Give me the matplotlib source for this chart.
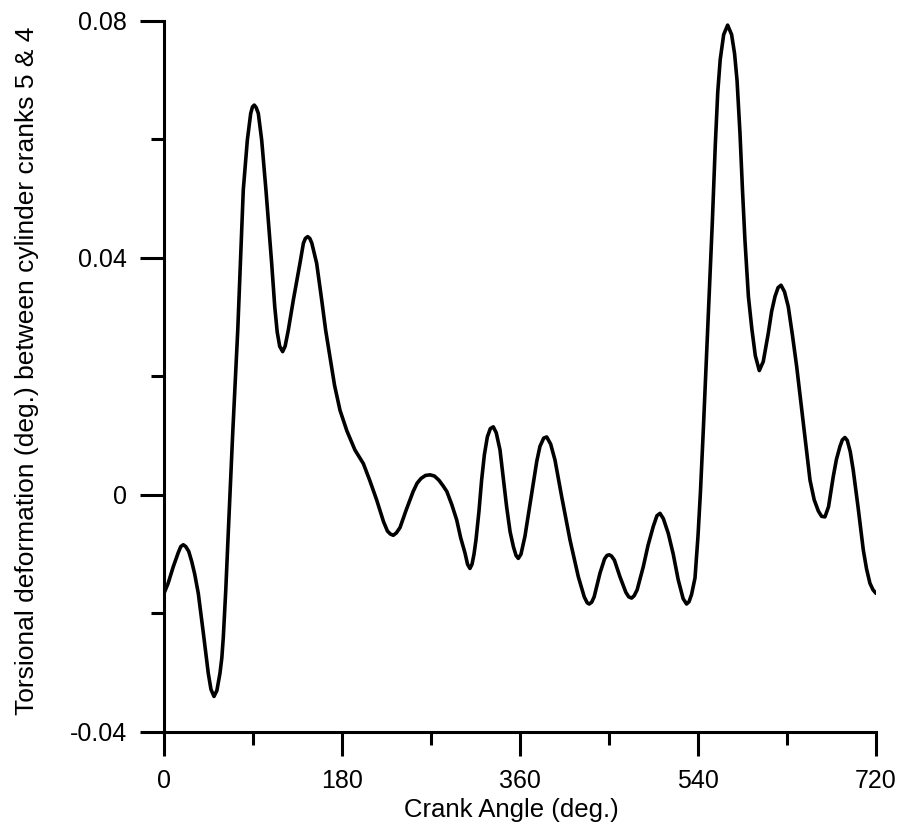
import matplotlib
matplotlib.use("Agg")
import matplotlib.pyplot as plt
from matplotlib.ticker import MultipleLocator

# Crank angle (deg.) and torsional deformation (deg.) between cranks 5 & 4
crank_angle = [
    0, 4, 9.4, 14.5, 17, 19.5, 22, 25, 28, 31, 34.7, 39.8, 44.8, 47.5, 50.6,
    53.5, 56.6, 58.5, 60, 62.5, 65, 69.5, 74.6, 80.2, 84.3, 87.7, 89.5, 91.3,
    93.2, 95.4, 98.8, 103.1, 108.9, 112, 114.5, 117, 120, 122.5, 125.7,
    130.8, 137.5, 141, 143, 145.3, 147.5, 149.5, 154.4, 159.5, 163.5, 167.9,
    172.5, 178, 185, 193.1, 201.6, 208, 215, 222, 226, 229, 231.9, 235,
    238.7, 245, 252, 256, 260, 264.5, 269, 273.5, 278, 282, 286, 291, 296,
    300, 304.4, 307, 309.4, 311.5, 313.5, 315.5, 318.5, 321.2, 324, 327,
    330, 333, 336, 339.8, 343, 346.5, 350, 353.3, 356, 358.3, 361, 365, 369,
    373.5, 377, 380.2, 384, 387, 391, 395.4, 402.2, 410.6, 419, 425, 428,
    430, 432.5, 435, 440.9, 445.5, 448, 450.3, 452.5, 455.5, 461.1, 467,
    470, 472.9, 475.5, 478.5, 484.7, 489.5, 494.8, 498.5, 501.6, 505, 510,
    515, 520, 525, 528.5, 531, 533.5, 537, 540, 542.5, 545.4, 548.5, 551.5,
    554.5, 557.5, 560, 562.5, 566, 570, 574, 577, 579.5, 582.5, 585, 587.5,
    591, 594.5, 598, 602, 606, 611.1, 614.5, 617.9, 621, 624, 627.5, 631.3,
    635.5, 639.8, 646.5, 653.3, 657.5, 661.7, 665, 668.4, 672, 676.8, 680,
    683.6, 686, 688.6, 691, 694, 697, 702, 707.2, 710.5, 713.9, 717, 720,
]
deformation = [
    -0.0166, -0.0150, -0.0121, -0.0097, -0.0087, -0.0084, -0.0087, -0.0095,
    -0.0112, -0.0133, -0.0166, -0.0233, -0.0301, -0.0328, -0.0340, -0.0330,
    -0.0301, -0.0275, -0.0240, -0.0160, -0.0064, 0.0104, 0.0278, 0.0515,
    0.0599, 0.0644, 0.0655, 0.0658, 0.0654, 0.0644, 0.0599, 0.0515, 0.0391,
    0.0318, 0.0275, 0.0251, 0.0242, 0.0251, 0.0278, 0.0329, 0.0391, 0.0425,
    0.0433, 0.0436, 0.0433, 0.0425, 0.0391, 0.0329, 0.0278, 0.0233, 0.0185,
    0.0143, 0.0108, 0.0076, 0.0053, 0.0025, -0.0008, -0.0045, -0.0061,
    -0.0066, -0.0068, -0.0064, -0.0055, -0.0025, 0.0006, 0.0020, 0.0028,
    0.0033, 0.0034, 0.0032, 0.0025, 0.0016, 0.0006, -0.0016, -0.0042,
    -0.0072, -0.0098, -0.0117, -0.0124, -0.0117, -0.0100, -0.0076, -0.0028,
    0.0025, 0.0068, 0.0098, 0.0112, 0.0115, 0.0105, 0.0076, 0.0030, -0.0020,
    -0.0062, -0.0087, -0.0102, -0.0107, -0.0100, -0.0070, -0.0028, 0.0020,
    0.0057, 0.0082, 0.0096, 0.0098, 0.0086, 0.0059, -0.0003, -0.0076,
    -0.0138, -0.0172, -0.0182, -0.0184, -0.0181, -0.0172, -0.0132, -0.0108,
    -0.0102, -0.0101, -0.0103, -0.0110, -0.0138, -0.0164, -0.0172, -0.0174,
    -0.0170, -0.0160, -0.0121, -0.0085, -0.0053, -0.0035, -0.0031, -0.0040,
    -0.0065, -0.0100, -0.0143, -0.0175, -0.0184, -0.0180, -0.0168, -0.0140,
    -0.0070, 0.0005, 0.0110, 0.0230, 0.0345, 0.0460, 0.0590, 0.0680, 0.0735,
    0.0777, 0.0793, 0.0777, 0.0745, 0.0700, 0.0610, 0.0515, 0.0430, 0.0335,
    0.0280, 0.0235, 0.0210, 0.0225, 0.0273, 0.0310, 0.0335, 0.0350, 0.0354,
    0.0343, 0.0318, 0.0270, 0.0217, 0.0121, 0.0025, -0.0008, -0.0027,
    -0.0036, -0.0037, -0.0020, 0.0031, 0.0060, 0.0082, 0.0093, 0.0097,
    0.0092, 0.0073, 0.0042, -0.0022, -0.0093, -0.0125, -0.0149, -0.0160,
    -0.0166,
]

x_ticks = [0, 180, 360, 540, 720]
y_ticks = [-0.04, 0, 0.04, 0.08]
y_tick_labels = ["-0.04", "0", "0.04", "0.08"]

plt.rcParams["font.family"] = ["Liberation Sans", "DejaVu Sans"]

fig = plt.figure(figsize=(9, 8.32), dpi=100)
ax = fig.add_axes([0.1822, 0.1202, 0.7911, 0.8546])

ax.plot(crank_angle, deformation, color="black", linewidth=2.6,
        solid_joinstyle="round", solid_capstyle="round")

ax.set_xlim(0, 720)
ax.set_ylim(-0.04, 0.08)
ax.set_xticks(x_ticks)
ax.set_xticklabels([str(v) for v in x_ticks])
ax.set_yticks(y_ticks)
ax.set_yticklabels(y_tick_labels)
ax.xaxis.set_minor_locator(MultipleLocator(90))
ax.yaxis.set_minor_locator(MultipleLocator(0.02))

for side in ("top", "right"):
    ax.spines[side].set_visible(False)
for side in ("left", "bottom"):
    ax.spines[side].set_linewidth(2.2)

ax.tick_params(which="major", direction="out", length=17.5, width=2.2,
               labelsize=18, pad=9)
ax.tick_params(which="minor", direction="out", length=9.5, width=2.2)

ax.set_xlabel("Crank Angle (deg.)", fontsize=18.5)
ax.set_ylabel("Torsional deformation (deg.) between cylinder cranks 5 & 4",
              fontsize=19)
ax.xaxis.set_label_coords(0.4874, -0.0935)
ax.yaxis.set_label_coords(-0.176, 0.5077)

fig.savefig("out.png", dpi=100)
